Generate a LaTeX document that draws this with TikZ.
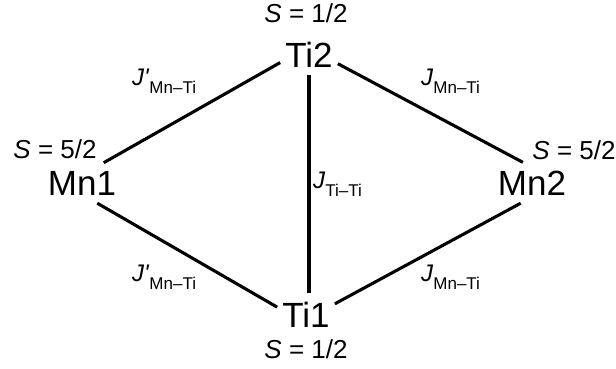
\documentclass[tikz,border=0pt]{standalone}
\usepackage{fontspec}
\setmainfont{Liberation Sans}
\newcommand{\jc}[2]{\textit{J#1}\raisebox{-8pt}{\fontsize{17}{20}\selectfont #2}}
\tikzset{
  every node/.style={inner sep=0pt}, % text only, no frames
  bond/.style={line width=3.1pt}, % exchange paths
}

\begin{document}
\begin{tikzpicture}[x=1pt,y=-1pt,
    atom/.style={font=\fontsize{35}{40}\selectfont, inner xsep=5pt, inner ysep=8pt, anchor=base},
    spin/.style={font=\fontsize{26}{30}\selectfont, anchor=base},
    coupling/.style={font=\fontsize{24}{28}\selectfont, anchor=base west}]
  \useasboundingbox (0,0) rectangle (616,369);

  \node[atom] (ti2) at (309,67) {Ti2};
  \node[atom] (ti1) at (306,327) {Ti1};
  \node[atom] (mn1) at (82,195) {Mn1};
  \node[atom] (mn2) at (532,195) {Mn2};

  \node[spin] (sti2) at (306,23) {\textit{S} = 1/2};
  \node[spin] (sti1) at (306,358) {\textit{S} = 1/2};
  \node[spin] (smn1) at (55,158) {\textit{S} = 5/2};
  \node[spin] (smn2) at (574,159) {\textit{S} = 5/2};

  \node[coupling] (jul) at (132,85) {\jc{\textquotesingle}{Mn–Ti}};
  \node[coupling] (jur) at (421,85) {\jc{}{Mn–Ti}};
  \node[coupling] (jll) at (132,281) {\jc{\textquotesingle}{Mn–Ti}};
  \node[coupling] (jlr) at (421,281) {\jc{}{Mn–Ti}};
  \node[coupling] (jtt) at (313,188) {\jc{}{Ti–Ti}};

  \draw[bond] (mn1.43) -- (ti2.196);
  \draw[bond] (ti2.342) -- (mn2.114);
  \draw[bond] (mn1.307) -- (ti1.166);
  \draw[bond] (ti1.20) -- (mn2.241);
  \draw[bond] (ti2.south) -- (ti2.south |- ti1.north);
\end{tikzpicture}
\end{document}
